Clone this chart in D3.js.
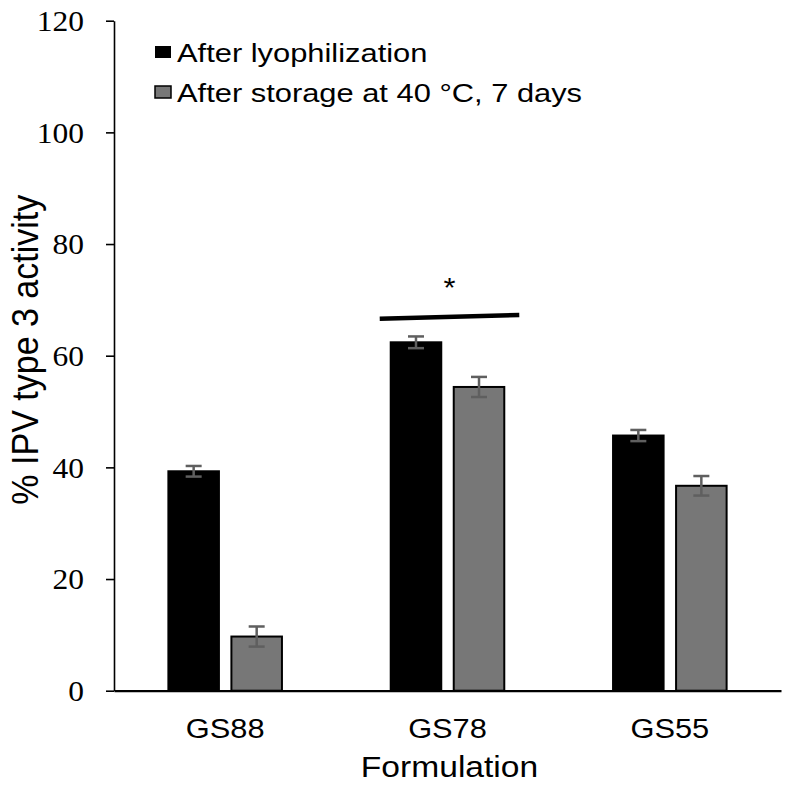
<!DOCTYPE html>
<html><head><meta charset="utf-8">
<script src="https://cdn.jsdelivr.net/npm/d3@7"></script>
<style>body{margin:0;background:#fff}</style></head>
<body><svg id="c" width="786" height="786"></svg>
<script>
const categories = ["GS88", "GS78", "GS55"];
const seriesNames = ["After lyophilization", "After storage at 40 °C, 7 days"];
const afterLyo = [39.3, 62.4, 45.7];
const afterLyoErr = [0.95, 1.05, 1.0];
const afterStorage = [9.7, 54.4, 36.7];
const afterStorageErr = [1.8, 1.8, 1.75];
const yTicks = [0, 20, 40, 60, 80, 100, 120];
const seriesColors = ["#000000", "#777777"];
const xTitle = "Formulation";
const yTitle = "% IPV type 3 activity";
const sigCategory = "GS78";
const sigLineValues = [66.6, 67.3];
const sigStarValue = 70.5;
const sigLabel = "*";

(function () {
const svg = d3.select("#c");
const sans = "'Liberation Sans', Arial, sans-serif";
const serif = "'Liberation Serif', 'Times New Roman', serif";

const mLeft = 114, mRight = 781, mTop = 20.7, mBottom = 690.7;
const y = d3.scaleLinear().domain([0, 120]).range([mBottom, mTop]);
const x0 = d3.scaleBand().domain(categories).range([mLeft, mRight]).paddingInner(0).paddingOuter(0);
const x1 = d3.scaleBand().domain(seriesNames).range([0, x0.bandwidth()]).paddingInner(0.198).paddingOuter(0.863);

const rows = categories.map((c, i) => ({
  cat: c,
  vals: [
    {s: seriesNames[0], v: afterLyo[i], e: afterLyoErr[i], col: seriesColors[0]},
    {s: seriesNames[1], v: afterStorage[i], e: afterStorageErr[i], col: seriesColors[1]}
  ]
}));

// bars
const g = svg.append("g");
const grp = g.selectAll("g.cat").data(rows).join("g").attr("class", "cat")
  .attr("transform", d => `translate(${x0(d.cat)},0)`);
grp.selectAll("rect").data(d => d.vals).join("rect")
  .attr("x", d => x1(d.s)).attr("width", x1.bandwidth())
  .attr("y", d => y(d.v)).attr("height", d => y(0) - y(d.v))
  .attr("fill", d => d.col).attr("stroke", "#000").attr("stroke-width", 2);

// error bars
const eb = grp.selectAll("g.err").data(d => d.vals).join("g").attr("class", "err")
  .attr("stroke", "#5f5f5f").attr("stroke-width", 2.5);
const cx = d => x1(d.s) + x1.bandwidth() / 2;
eb.append("line").attr("x1", cx).attr("x2", cx)
  .attr("y1", d => y(d.v + d.e)).attr("y2", d => y(d.v - d.e));
eb.append("line").attr("x1", d => cx(d) - 8).attr("x2", d => cx(d) + 8)
  .attr("y1", d => y(d.v + d.e)).attr("y2", d => y(d.v + d.e));
eb.append("line").attr("x1", d => cx(d) - 8).attr("x2", d => cx(d) + 8)
  .attr("y1", d => y(d.v - d.e)).attr("y2", d => y(d.v - d.e));

// y axis
const ySx = 1.05;
const yAxis = svg.append("g").attr("transform", `translate(${mLeft},0)`)
  .call(d3.axisLeft(y).tickValues(yTicks).tickSize(8).tickSizeOuter(0));
yAxis.select(".domain").attr("stroke", "#000").attr("stroke-width", 1.6);
yAxis.selectAll(".tick line").attr("stroke", "#000").attr("stroke-width", 1.6);
yAxis.selectAll(".tick text")
  .attr("font-family", serif).attr("font-size", 30).attr("fill", "#000")
  .attr("transform", `scale(${ySx},1)`).attr("x", -30 / ySx).attr("dy", "0.33em");

// x axis
const xSx = 1.1;
const xAxis = svg.append("g").attr("transform", `translate(0,${mBottom})`)
  .call(d3.axisBottom(x0).tickSize(0).tickSizeOuter(0));
xAxis.select(".domain").attr("stroke", "#000").attr("stroke-width", 2.2);
xAxis.selectAll(".tick text")
  .attr("font-family", sans).attr("font-size", 28).attr("fill", "#000")
  .attr("transform", `scale(${xSx},1)`).attr("y", 47).attr("dy", 0);

// titles
svg.append("text").attr("font-family", sans).attr("font-size", 30).attr("text-anchor", "middle")
  .attr("transform", `translate(${(mLeft + mRight) / 2 + 2},777) scale(1.12,1)`).text(xTitle);
svg.append("text").attr("font-family", sans).attr("font-size", 34).attr("text-anchor", "middle")
  .attr("transform", `translate(38,${y(60) - 6}) scale(1.1,1) rotate(-90)`).text(yTitle);

// legend
const lg = svg.append("g");
seriesNames.forEach((s, i) => {
  const cy = 52 + i * 40;
  lg.append("rect").attr("x", 155).attr("y", cy - 6).attr("width", 16).attr("height", 12)
    .attr("fill", seriesColors[i]).attr("stroke", "#000").attr("stroke-width", i === 0 ? 0 : 1.5);
  lg.append("text").attr("font-family", sans).attr("font-size", 26.5)
    .attr("transform", `translate(177,${cy + 9.5}) scale(1.165,1)`).text(s);
});

// significance annotation
const sx0 = x0(sigCategory) + x1(seriesNames[0]) - 11;
const sx1 = x0(sigCategory) + x1(seriesNames[1]) + x1.bandwidth() + 15;
svg.append("line").attr("x1", sx0).attr("x2", sx1)
  .attr("y1", y(sigLineValues[0])).attr("y2", y(sigLineValues[1]))
  .attr("stroke", "#000").attr("stroke-width", 4.5);
svg.append("text").attr("font-family", sans).attr("font-size", 28).attr("text-anchor", "middle")
  .attr("transform", `translate(${(sx0 + sx1) / 2},${y(sigStarValue)}) scale(1.1,1)`).text(sigLabel);
})();
</script>
</body></html>
